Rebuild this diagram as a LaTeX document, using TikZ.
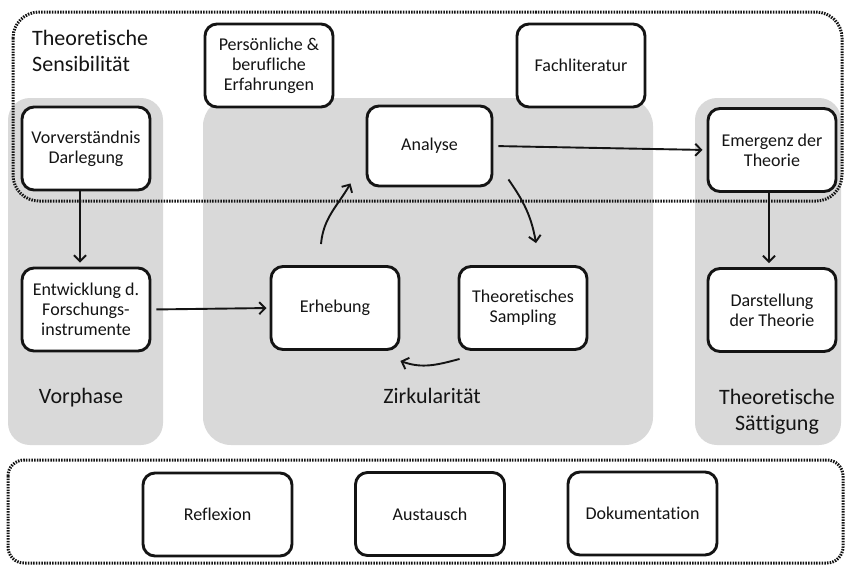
\documentclass[tikz,border=0pt]{standalone}
\usepackage{fontspec}
\setmainfont{Carlito}[Ligatures=NoCommon]
\usetikzlibrary{arrows.meta}
\definecolor{panelgray}{RGB}{217,217,217}
\definecolor{inkc}{RGB}{20,20,20}

\begin{document}
\begin{tikzpicture}[x=1pt,y=-1pt,
  stepbox/.style={draw=inkc, line width=2.9pt, fill=white, rounded corners=12pt,
    minimum width=128pt, minimum height=83pt, inner sep=0pt, align=center,
    text=inkc, font=\fontsize{18}{20}\selectfont},
  widebox/.style={stepbox, minimum width=149pt},
  panel/.style={fill=panelgray, rounded corners=22pt},
  frame/.style={draw=inkc, line width=3pt, dash pattern=on 1.5pt off 1.2pt},
  phase/.style={align=center, text=inkc, font=\fontsize{22}{26}\selectfont, inner sep=0pt},
  flow/.style={draw=inkc, line width=1.9pt, -{Straight Barb[length=6pt,width=12pt]}},
]
\useasboundingbox[fill=white] (0,0) rectangle (845,566);

% phase panels
\fill[panel] (8,98) rectangle (163,445);
\fill[panel, rounded corners=28pt] (203,98) rectangle (653,445);
\fill[panel] (695,98) rectangle (841,445);

% dotted frames
\draw[frame, rounded corners=26pt] (13,12) rectangle (842,201);
\draw[frame, rounded corners=16pt] (8,460) rectangle (843,563);

% labels
\node[phase, anchor=north west, align=left] (sens) at (32,30) {Theoretische\\Sensibilität};
\node[phase, anchor=base] (vorph) at (81,403) {Vorphase};
\node[phase, anchor=base] (zirk) at (432,403) {Zirkularität};
\node[phase, anchor=north] (saett) at (777,389) {Theoretische\\Sättigung};

% process steps
\node[stepbox] (vorv) at (86,148.5) {Vorverständnis\\Darlegung};
\node[stepbox] (pers) at (269,65.5) {Persönliche \&\\berufliche\\Erfahrungen};
\node[stepbox] (fach) at (581,65.5) {Fachliteratur};
\node[stepbox, minimum width=125pt, minimum height=80pt] (anal) at (429.5,146) {Analyse};
\node[stepbox] (emer) at (772,150) {Emergenz der\\Theorie};
\node[stepbox] (entw) at (86,309.5) {Entwicklung d.\\Forschungs-\\instrumente};
\node[stepbox] (erh) at (335,308) {Erhebung};
\node[stepbox] (samp) at (523,308) {Theoretisches\\Sampling};
\node[stepbox] (dars) at (772,310) {Darstellung\\der Theorie};

% accompanying activities
\node[widebox] (refl) at (217.5,514.5) {Reflexion};
\node[widebox] (aust) at (430,514) {Austausch};
\node[widebox] (doku) at (642.5,513.5) {Dokumentation};

% connectors
\draw[flow, shorten >=4pt] ([xshift=-6pt]vorv.south) -- ([xshift=-6pt]entw.north);
\draw[flow, shorten <=5pt, shorten >=3pt] (entw.east) -- (erh.west);
\draw[flow] ([xshift=-14pt, yshift=21pt]erh.north) to[out=85, in=240] ([xshift=-79pt, yshift=4pt]anal.south);
\draw[flow] ([xshift=15pt, yshift=8pt]anal.south east) to[out=-55, in=100] ([xshift=13pt, yshift=22pt]samp.north);
\draw[flow] ([xshift=2pt, yshift=-8pt]samp.south west) to[out=195, in=-20] ([yshift=-10pt]erh.south east);
\draw[flow, shorten <=5pt, shorten >=4pt] (anal.east) -- (emer.west);
\draw[flow, shorten >=4pt] ([xshift=-3pt]emer.south) -- ([xshift=-3pt]dars.north);
\end{tikzpicture}
\end{document}
